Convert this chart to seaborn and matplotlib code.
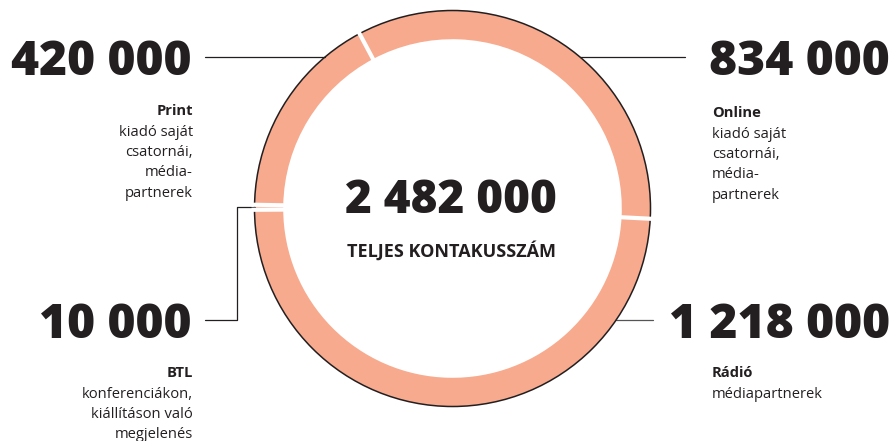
import matplotlib
matplotlib.use("Agg")
import matplotlib.pyplot as plt
import numpy as np
import seaborn as sns

# Contact numbers per channel (clockwise from the top)
channels = ["Online", "Rádió", "BTL", "Print"]
contacts = [834000, 1218000, 10000, 420000]
value_labels = ["834 000", "1 218 000", "10 000", "420 000"]
descriptions = [
    ["kiadó saját", "csatornái,", "média-", "partnerek"],
    ["médiapartnerek"],
    ["konferenciákon,", "kiállításon való", "megjelenés"],
    ["kiadó saját", "csatornái,", "média-", "partnerek"],
]
total_label = "2 482 000"
total_caption = "TELJES KONTAKUSSZÁM"

sns.set_theme(style="white")
plt.rcParams["font.family"] = ["Open Sans", "DejaVu Sans"]

INK = "#231F20"
SALMON = "#F7AA8D"
W, H = 896, 441

fig = plt.figure(figsize=(W / 100, H / 100), dpi=100)
ax = fig.add_axes([0, 0, 1, 1])

def Y(y):
    # layout positions are given top-down in pixels
    return H - y

cx, cy, R = 452.5, Y(208.5), 198
ring = 0.145 * R

colors = sns.color_palette([SALMON] * len(contacts))
wedges, _ = ax.pie(contacts, colors=colors, radius=R, center=(cx, cy),
                   startangle=118, counterclock=False,
                   wedgeprops=dict(width=ring, linewidth=0))

# thin dark rim around the outside of the ring
ax.add_patch(plt.Circle((cx, cy), R, fill=False, ec=INK, lw=1.1, zorder=3))

# white separators between the segments
for w in wedges:
    t = np.deg2rad(w.theta1)
    r0, r1 = R - ring - 3, R + 3
    ax.plot([cx + r0 * np.cos(t), cx + r1 * np.cos(t)],
            [cy + r0 * np.sin(t), cy + r1 * np.sin(t)],
            color="white", lw=3.0, solid_capstyle="butt", zorder=4)

def rim_x(y, side):
    dy = y - cy
    return cx + side * np.sqrt(max(R * R - dy * dy, 0))

line_kw = dict(color=INK, lw=0.9, zorder=2)

# leader lines
yp = Y(57)
ax.plot([205, rim_x(yp, -1)], [yp, yp], **line_kw)            # Print
ax.plot([rim_x(yp, 1), 685], [yp, yp], **line_kw)             # Online
yr = Y(320)
ax.plot([rim_x(yr, 1), 653], [yr, yr], color="#555555", lw=0.9, zorder=2)  # Rádió
btl = wedges[2]
tm = np.deg2rad((btl.theta1 + btl.theta2) / 2)
bx, by = cx + R * np.cos(tm), cy + R * np.sin(tm)
ax.plot([205, 237, 237, bx], [yr, yr, by, by], **line_kw)      # BTL

big = dict(fontsize=34.5, fontweight="heavy", color=INK, va="baseline")
small = dict(fontsize=10.6, color=INK, va="baseline")

# value labels
ax.text(890, Y(75), value_labels[0], ha="right", **big)
ax.text(890, Y(338), value_labels[1], ha="right", **big)
ax.text(191, Y(338), value_labels[2], ha="right", **big)
ax.text(191, Y(75), value_labels[3], ha="right", **big)

def block(x, y0, title, lines, ha):
    ax.text(x, Y(y0), title, ha=ha, fontweight="bold", **small)
    for i, ln in enumerate(lines):
        ax.text(x, Y(y0 + 20.5 * (i + 1)), ln, ha=ha, **small)

block(712, 117, channels[0], descriptions[0], "left")
block(712, 377, channels[1], descriptions[1], "left")
block(193, 377, channels[2], descriptions[2], "right")
block(193, 115, channels[3], descriptions[3], "right")

# total in the middle of the ring
ax.text(451, Y(213), total_label, ha="center", va="baseline",
        fontsize=33, fontweight="heavy", color=INK)
ax.text(451, Y(257), total_caption, ha="center", va="baseline",
        fontsize=13, fontweight="bold", color=INK)

ax.set_xlim(0, W)
ax.set_ylim(0, H)
ax.set_aspect("equal")
ax.axis("off")

fig.savefig("out.png", dpi=100, facecolor="white")
